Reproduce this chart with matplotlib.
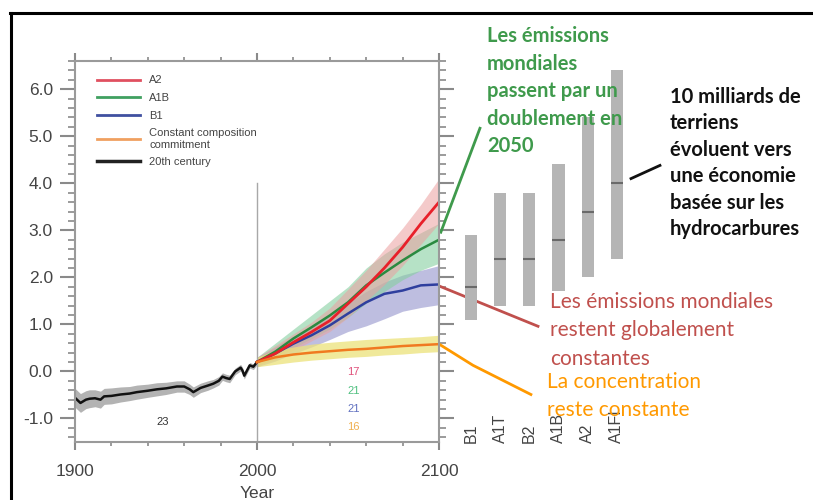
import numpy as np
import matplotlib.pyplot as plt
from matplotlib.lines import Line2D
from matplotlib.ticker import MultipleLocator, FormatStrFormatter

plt.rcParams['axes.unicode_minus'] = False
plt.rcParams['font.family'] = ['Liberation Sans', 'DejaVu Sans']

# -------------------------------
# Data
# -------------------------------
hist_years = [1900, 1903, 1906, 1908, 1911, 1914, 1916, 1920, 1925, 1930, 1934, 1940, 1945,
              1950, 1956, 1960, 1963, 1965, 1969, 1973, 1976, 1979, 1981, 1983, 1985, 1988,
              1991, 1992, 1993, 1996, 1998, 2000]
hist_temp = [-0.56, -0.67, -0.60, -0.58, -0.57, -0.60, -0.53, -0.52, -0.49, -0.47, -0.44, -0.41, -0.38,
             -0.36, -0.32, -0.32, -0.38, -0.44, -0.35, -0.30, -0.26, -0.20, -0.11, -0.14, -0.16, 0.00,
             0.08, 0.02, -0.09, 0.13, 0.10, 0.20]
hist_spread = [0.20, 0.20, 0.19, 0.19, 0.18, 0.18, 0.17, 0.17, 0.16, 0.15, 0.15, 0.14, 0.14,
               0.13, 0.12, 0.12, 0.11, 0.11, 0.10, 0.10, 0.09, 0.09, 0.08, 0.08, 0.08, 0.07,
               0.07, 0.07, 0.07, 0.06, 0.06, 0.06]

scen_years = [2000, 2010, 2020, 2030, 2040, 2050, 2060, 2070, 2080, 2090, 2100]
a2 = [0.20, 0.38, 0.62, 0.84, 1.08, 1.44, 1.80, 2.20, 2.64, 3.14, 3.60]
a2_hi = [0.30, 0.55, 0.80, 1.05, 1.35, 1.75, 2.15, 2.60, 3.05, 3.55, 4.10]
a2_lo = [0.12, 0.25, 0.45, 0.65, 0.85, 1.15, 1.50, 1.85, 2.25, 2.70, 3.15]
a1b = [0.20, 0.42, 0.70, 0.94, 1.19, 1.47, 1.83, 2.10, 2.36, 2.60, 2.80]
a1b_hi = [0.30, 0.60, 0.90, 1.20, 1.50, 1.80, 2.20, 2.50, 2.75, 2.95, 3.15]
a1b_lo = [0.12, 0.28, 0.50, 0.70, 0.90, 1.15, 1.45, 1.70, 1.95, 2.15, 2.30]
b1 = [0.20, 0.38, 0.59, 0.77, 0.98, 1.23, 1.47, 1.65, 1.72, 1.83, 1.85]
b1_hi = [0.30, 0.52, 0.75, 0.95, 1.20, 1.45, 1.70, 1.90, 2.05, 2.15, 2.25]
b1_lo = [0.10, 0.22, 0.38, 0.52, 0.68, 0.85, 0.97, 1.12, 1.28, 1.36, 1.42]
commit = [0.20, 0.30, 0.36, 0.40, 0.43, 0.46, 0.48, 0.51, 0.54, 0.56, 0.58]
commit_hi = [0.30, 0.45, 0.52, 0.58, 0.62, 0.65, 0.68, 0.70, 0.72, 0.74, 0.77]
commit_lo = [0.10, 0.15, 0.20, 0.24, 0.27, 0.30, 0.32, 0.35, 0.37, 0.40, 0.42]

model_counts = ['17', '21', '21', '16']
hist_count = '23'

bar_labels = ['B1', 'A1T', 'B2', 'A1B', 'A2', 'A1FI']
bar_low = [1.1, 1.4, 1.4, 1.7, 2.0, 2.4]
bar_high = [2.9, 3.8, 3.8, 4.4, 5.4, 6.4]
bar_best = [1.8, 2.4, 2.4, 2.8, 3.4, 4.0]

# -------------------------------
# Figure
# -------------------------------
W, H = 813, 500
fig = plt.figure(figsize=(W / 100, H / 100), dpi=100)

def fx(px):
    return px / W

def fy(py):
    return 1 - py / H

ax = fig.add_axes([fx(75), fy(442), fx(439) - fx(75), fy(61) - fy(442)])
ax.set_xlim(1900, 2100)
ax.set_ylim(-1.5, 6.6)

# bands
ax.fill_between(hist_years, np.array(hist_temp) - hist_spread, np.array(hist_temp) + hist_spread,
                color='#9a9a9a', alpha=0.75, lw=0)
ax.fill_between(scen_years, b1_lo, b1_hi, color='#a9a9d6', alpha=0.75, lw=0)
ax.fill_between(scen_years, a1b_lo, a1b_hi, color='#86cfa0', alpha=0.6, lw=0)
ax.fill_between(scen_years, a2_lo, a2_hi, color='#eba0a0', alpha=0.55, lw=0)
ax.fill_between(scen_years, commit_lo, commit_hi, color='#ece27a', alpha=0.75, lw=0)

ax.plot([2000, 2000], [-1.5, 4.0], color='#a8a8a8', lw=1)

ax.plot(hist_years, hist_temp, color='#111111', lw=1.8)
ax.plot(scen_years, b1, color='#2f3f9e', lw=1.8)
ax.plot(scen_years, a1b, color='#2a8a40', lw=1.8)
ax.plot(scen_years, a2, color='#e8202a', lw=2.0)
ax.plot(scen_years, commit, color='#f07a20', lw=1.8)

# model counts
ax.text(1948, -1.08, hist_count, fontsize=8, color='#333333', ha='center', va='center')
count_colors = ['#e0507a', '#50c080', '#6070c0', '#f0b050']
for i, (c, col) in enumerate(zip(model_counts, count_colors)):
    ax.text(2053, -0.02 - 0.39 * i, c, fontsize=8, color=col, ha='center', va='center')

# legend
handles = [Line2D([], [], color='#e05060', lw=2),
           Line2D([], [], color='#40a060', lw=2),
           Line2D([], [], color='#4050a0', lw=2),
           Line2D([], [], color='#f0a060', lw=2),
           Line2D([], [], color='#222222', lw=2.5)]
labels = ['A2', 'A1B', 'B1', 'Constant composition\ncommitment', '20th century']
ax.legend(handles, labels, loc='upper left', bbox_to_anchor=(0.06, 0.962), frameon=False,
          fontsize=8, handlelength=3.9, handletextpad=0.8, labelspacing=0.68,
          borderpad=0, borderaxespad=0, labelcolor='#444444')

# axes style
for side in ['left', 'right', 'top', 'bottom']:
    ax.spines[side].set_color('#9a9a9a')
    ax.spines[side].set_linewidth(1.5)
ax.yaxis.set_major_locator(MultipleLocator(1))
ax.yaxis.set_minor_locator(MultipleLocator(0.2))
ax.yaxis.set_major_formatter(FormatStrFormatter('%.1f'))
ax.xaxis.set_major_locator(MultipleLocator(100))
ax.xaxis.set_minor_locator(MultipleLocator(20))
ax.tick_params(axis='y', which='both', direction='out', left=True, right=True, color='#8a8a8a')
ax.tick_params(axis='y', which='major', length=11, width=1.5, labelsize=12.5, labelcolor='#444444', pad=5)
ax.tick_params(axis='y', which='minor', length=5, width=1.2)
ax.tick_params(axis='x', which='both', direction='out', top=True, bottom=True, color='#8a8a8a')
ax.tick_params(axis='x', which='major', length=6, width=1.5, labelsize=12.5, labelcolor='#444444', pad=10)
ax.tick_params(axis='x', which='minor', length=3, width=1.2)
ax.set_xlabel('Year', fontsize=12.5, color='#444444', labelpad=5)

# likely ranges for the six scenarios
bx = fig.add_axes([fx(440), fy(442), fx(640) - fx(440), fy(61) - fy(442)], sharey=ax)
bx.set_xlim(-1.06, 5.79)
pos = np.arange(len(bar_labels))
bx.bar(pos, np.array(bar_high) - np.array(bar_low), bottom=bar_low, width=0.42, color='#b5b5b5')
bx.hlines(bar_best, pos - 0.21, pos + 0.21, color='#6a6a6a', lw=1.5)
for p, lab in zip(pos, bar_labels):
    bx.text(p, -1.53, lab, rotation=90, ha='center', va='bottom', fontsize=11.5, color='#444444')
bx.axis('off')

# annotations
ann_font = ['Lato', 'DejaVu Sans']
ax.plot([2101, 2122.5], [2.96, 5.17], color='#3f9a4c', lw=2, clip_on=False)
fig.text(fx(487), fy(26), 'Les émissions\nmondiales\npassent par un\ndoublement en\n2050',
         color='#3f9a4c', fontsize=14.5, fontweight='bold', family=ann_font,
         ha='left', va='top', linespacing=1.47)

ax.plot([2205.5, 2221.4], [4.1, 4.38], color='#111111', lw=2, clip_on=False)
fig.text(fx(670), fy(87), '10 milliards de\nterriens\névoluent vers\nune économie\nbasée sur les\nhydrocarbures',
         color='#111111', fontsize=14.5, fontweight='bold', family=ann_font,
         ha='left', va='top', linespacing=1.40)

ax.plot([2100.5, 2154.4], [1.81, 0.96], color='#c0504d', lw=2, clip_on=False)
fig.text(fx(550), fy(292), 'Les émissions mondiales\nrestent globalement\nconstantes',
         color='#c0504d', fontsize=15, family=ann_font, ha='left', va='top', linespacing=1.52)

ax.plot([2100.5, 2118.7, 2150.5], [0.57, 0.13, -0.49], color='#ff9900', lw=2, clip_on=False)
fig.text(fx(547), fy(372), 'La concentration\nreste constante',
         color='#ff9900', fontsize=15, family=ann_font, ha='left', va='top', linespacing=1.5)

# outer frame
fig.add_artist(Line2D([fx(11), fx(11)], [fy(13), 0], color='black', lw=2.2))
fig.add_artist(Line2D([fx(10), 1], [fy(13), fy(13)], color='black', lw=2.2))

fig.savefig('out.png', dpi=100)
